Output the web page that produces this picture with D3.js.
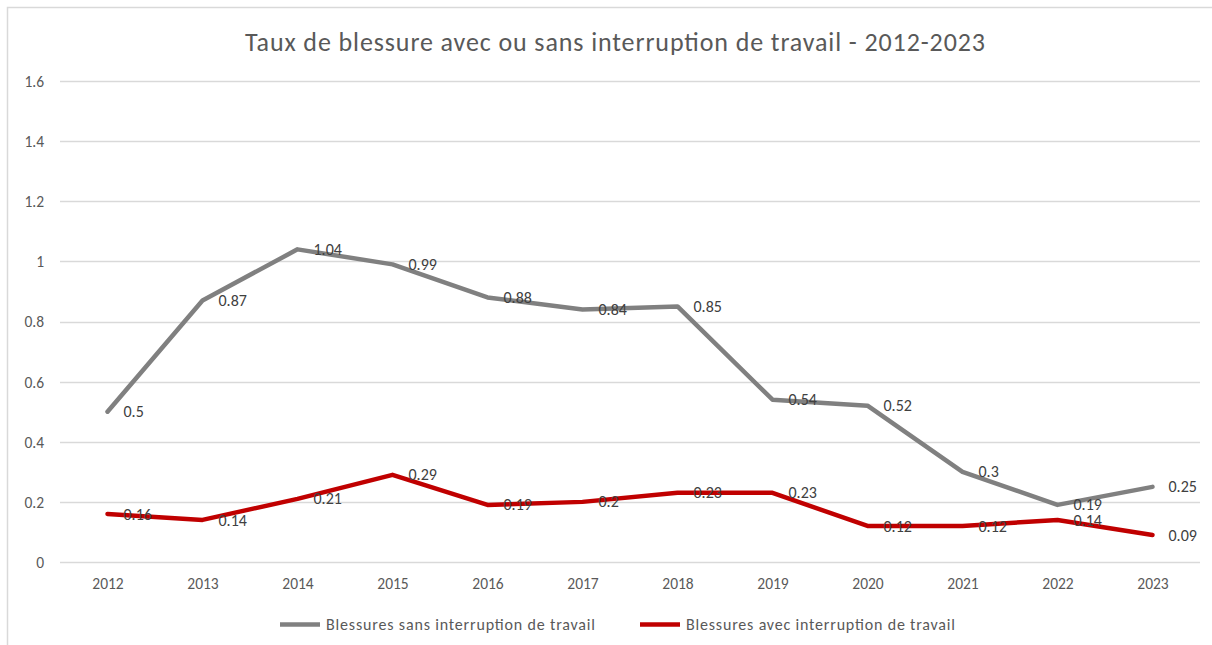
<!DOCTYPE html>
<html><head><meta charset="utf-8">
<script src="https://cdn.jsdelivr.net/npm/d3@7"></script>
<style>
html,body{margin:0;padding:0;background:#fff;}
svg{display:block;font-family:Carlito,Lato,"Open Sans",sans-serif;}
</style></head>
<body>
<svg id="chart" width="1212" height="645"></svg>
<script>
const years = ["2012","2013","2014","2015","2016","2017","2018","2019","2020","2021","2022","2023"];
const sansInterruption = [0.5,0.87,1.04,0.99,0.88,0.84,0.85,0.54,0.52,0.3,0.19,0.25];
const avecInterruption = [0.16,0.14,0.21,0.29,0.19,0.2,0.23,0.23,0.12,0.12,0.14,0.09];
const yTicks = [0,0.2,0.4,0.6,0.8,1,1.2,1.4,1.6];
const seriesNames = ["Blessures sans interruption de travail","Blessures avec interruption de travail"];
const seriesColors = ["#808080","#C00000"];
const titleText = "Taux de blessure avec ou sans interruption de travail - 2012-2023";

(function(){
const FONT = "Carlito,Lato,'Open Sans',sans-serif";
const svg = d3.select("#chart");
svg.append("path").attr("d","M7.5,645 V7.5 H1212").attr("fill","none").attr("stroke","#d9d9d9").attr("stroke-width",1.5);

const pLeft = 60, pRight = 1200, pTop = 81, pBottom = 562;
const x = d3.scalePoint().domain(years).range([pLeft, pRight]).padding(0.5);
const y = d3.scaleLinear().domain([0,1.6]).range([pBottom, pTop]);

svg.append("g").selectAll("line").data(yTicks).join("line")
  .attr("x1",pLeft).attr("x2",pRight)
  .attr("y1",d=>Math.round(y(d))+0.5).attr("y2",d=>Math.round(y(d))+0.5)
  .attr("stroke","#d9d9d9").attr("stroke-width",1.3);

const yAxis = d3.axisLeft(y).tickValues(yTicks).tickSize(0).tickPadding(0).tickFormat(d=>String(d));
const yg = svg.append("g").attr("transform",`translate(44,0)`).call(yAxis);
yg.select(".domain").remove();
yg.selectAll("text").attr("fill","#595959").attr("dy","0.35em").style("font-size","15.5px").style("font-family",FONT);

const xAxis = d3.axisBottom(x).tickSize(0).tickPadding(0);
const xg = svg.append("g").attr("transform",`translate(0,584)`).call(xAxis);
xg.select(".domain").remove();
xg.selectAll("text").attr("fill","#595959").attr("dy","0.35em").style("font-size","15.5px").style("font-family",FONT);

svg.append("text").attr("x",245).attr("y",51)
  .attr("textLength",740).attr("lengthAdjust","spacing")
  .attr("fill","#595959").style("font-size","26px").text(titleText);

const line = d3.line().x((d,i)=>x(years[i])).y(d=>y(d));
[sansInterruption, avecInterruption].forEach((vals,si)=>{
  svg.append("path").datum(vals).attr("d",line).attr("fill","none")
    .attr("stroke",seriesColors[si]).attr("stroke-width",4.5).attr("stroke-linejoin","round").attr("stroke-linecap","round");
});
[sansInterruption, avecInterruption].forEach((vals,si)=>{
  svg.append("g").selectAll("text").data(vals).join("text")
    .attr("x",(d,i)=>x(years[i])+16).attr("y",d=>y(d)).attr("dy","0.35em")
    .attr("fill","#404040").style("font-size","16px").text(d=>String(d));
});

const legX = [280, 640];
seriesNames.forEach((n,i)=>{
  svg.append("line").attr("x1",legX[i]).attr("x2",legX[i]+40).attr("y1",624.5).attr("y2",624.5)
    .attr("stroke",seriesColors[i]).attr("stroke-width",4.5);
  svg.append("text").attr("x",legX[i]+46).attr("y",630)
    .attr("textLength",269).attr("lengthAdjust","spacing")
    .attr("fill","#595959").style("font-size","16px").text(n);
});
})();
</script>
</body></html>
